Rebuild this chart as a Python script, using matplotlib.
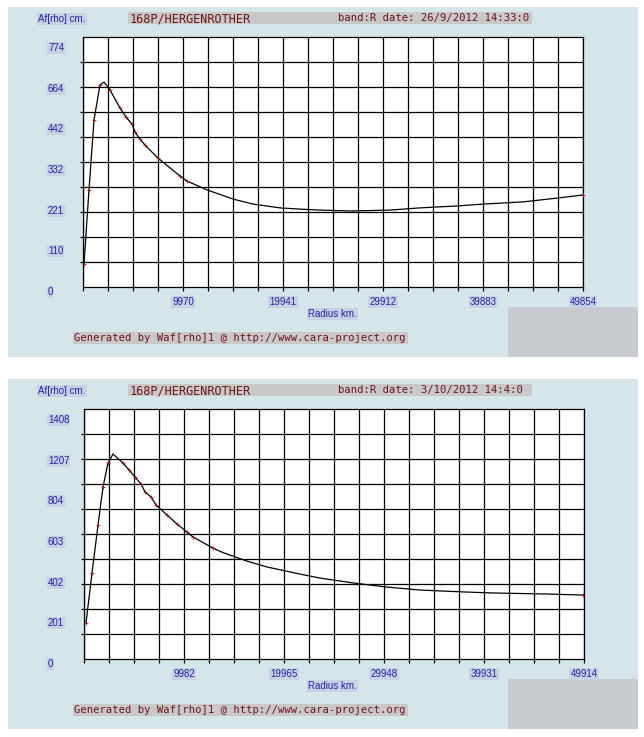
import matplotlib
matplotlib.use("Agg")
import matplotlib.pyplot as plt
from matplotlib.patches import Rectangle
import numpy as np

W, H = 644, 737

# ---- panel 1 : 26/9/2012 ----
r1_x = [100, 598, 1097, 1695, 2094, 2692, 3689, 4287, 4886, 5185, 5683, 6182, 7478,
        9672, 10370, 12364, 14956, 16950, 19642, 21637, 23631, 26622, 30610, 33602,
        37291, 39883, 43872, 47262, 49854]
r1_y = [73, 308, 530, 641, 650, 625, 568, 539, 517, 492, 469, 450, 409,
        352, 336, 308, 279, 263, 251, 247, 244, 241, 244, 251,
        257, 263, 270, 282, 292]
m1_x = [100, 598, 1097, 1695, 2692, 3689, 4287, 4886, 5185, 5683, 6182, 7478, 9672, 10370, 49854]
m1_y = [73, 308, 530, 641, 625, 568, 539, 517, 492, 469, 450, 409, 352, 336, 292]
xmax1 = 49854
ylab1 = ["0", "110", "221", "332", "442", "664", "774"]
ytop1 = 774
date1 = "band:R date: 26/9/2012 14:33:0"

# ---- panel 2 : 3/10/2012 ----
r2_x = [200, 799, 1398, 1897, 2396, 2895, 3893, 4492, 5091, 5690, 6090, 6689, 7188,
        8286, 9284, 10282, 10881, 12878, 13876, 16272, 18269, 21563, 23560, 26854,
        30248, 33543, 37836, 40831, 46222, 49816]
r2_y = [208, 496, 773, 992, 1131, 1183, 1131, 1091, 1050, 1010, 964, 935, 889,
        831, 779, 733, 704, 640, 614, 565, 531, 490, 467, 439,
        415, 398, 387, 381, 375, 369]
m2_x = [200, 799, 1398, 1897, 2396, 3893, 4492, 5091, 5690, 6090, 6689, 7188, 8286,
        9284, 10282, 10881, 12878, 49816]
m2_y = [208, 496, 773, 992, 1131, 1131, 1091, 1050, 1010, 964, 935, 889, 831,
        779, 733, 704, 640, 369]
xmax2 = 49914
ylab2 = ["0", "201", "402", "603", "804", "1207", "1408"]
ytop2 = 1408
date2 = "band:R date: 3/10/2012 14:4:0"

BG = "#d5e6ea"
GREY = "#c6cbd0"
BAR = "#c8c8ca"
RED = "#6e1414"
BLUE = "#2222aa"
HL = "#c6d2e4"


def fx(x):
    return x / W


def fy(y):
    return 1 - y / H


def rect(fig, x0, y0, x1, y1, color):
    fig.add_artist(Rectangle((fx(x0), fy(y1)), (x1 - x0) / W, (y1 - y0) / H,
                             transform=fig.transFigure, facecolor=color,
                             edgecolor="none", zorder=0))


def panel(fig, top, left, xs, ys, mx, my, xmax, ylabels, ytop, date):
    # background boxes
    rect(fig, 8, top, 638, top + 350, BG)
    rect(fig, 508, top + 300, 638, top + 350, GREY)
    rect(fig, 128, top + 5, 532, top + 17, BAR)
    rect(fig, 73, top + 325, 408, top + 337, BAR)

    fig.text(fx(38), fy(top + 12), "Af[rho] cm.", color=BLUE, fontsize=7,
             family="Liberation Sans", va="center", ha="left",
             bbox=dict(boxstyle="square,pad=0.15", fc=HL, ec="none"))
    fig.text(fx(130), fy(top + 11.5), "168P/HERGENROTHER", color=RED, fontsize=8.6,
             family="DejaVu Sans Mono", va="center", ha="left")
    fig.text(fx(338), fy(top + 11.5), date, color=RED, fontsize=7.6,
             family="DejaVu Sans Mono", va="center", ha="left")
    fig.text(fx(308), fy(top + 307), "Radius km.", color=BLUE, fontsize=7,
             family="Liberation Sans", va="center", ha="left",
             bbox=dict(boxstyle="square,pad=0.15", fc=HL, ec="none"))
    fig.text(fx(74), fy(top + 331), "Generated by Waf[rho]1 @ http://www.cara-project.org",
             color=RED, fontsize=7.6, family="DejaVu Sans Mono", va="center", ha="left")

    ax = fig.add_axes([fx(left), fy(top + 280), 500 / W, 250 / H])
    ax.set_facecolor("white")
    ymax = ytop * 250 / 244
    ax.set_xlim(0, xmax)
    ax.set_ylim(0, ymax)

    ax.plot(xs, ys, color="black", lw=0.9, zorder=3)
    ax.plot(mx, my, ls="none", marker="+", ms=3.5, mew=0.6, color="#a01c1c", zorder=4,
            clip_on=False)

    # grid (minor ticks) 20 x 10
    ax.set_xticks(np.linspace(0, xmax, 21)[:-1], minor=True)
    ax.set_yticks(np.linspace(0, ymax, 11)[1:-1], minor=True)
    xt = np.linspace(0, xmax, 6)[1:]
    ax.set_xticks(xt, [str(int(v)) for v in xt])
    ax.set_yticks(np.linspace(0, ytop, 7), ylabels)
    ax.grid(which="minor", color="black", lw=0.9)
    ax.grid(which="major", axis="x", color="black", lw=0.9)
    ax.tick_params(which="minor", axis="x", direction="out", length=3, width=0.9)
    ax.tick_params(which="minor", axis="y", direction="out", length=2, width=0.9)
    ax.tick_params(which="major", axis="x", length=3, width=0.9, pad=4,
                   labelsize=7, labelcolor=BLUE)
    ax.tick_params(which="major", axis="y", length=0, pad=(left - 48) * 0.72,
                   labelsize=7, labelcolor=BLUE)
    for t in ax.get_xticklabels() + ax.get_yticklabels():
        t.set_family("Liberation Sans")
        t.set_bbox(dict(boxstyle="square,pad=0.1", fc=HL, ec="none"))
    for t in ax.get_yticklabels():
        t.set_va("top")
        t.set_ha("left")
    for s in ax.spines.values():
        s.set_color("black")
        s.set_linewidth(0.9)
    return ax


fig = plt.figure(figsize=(W / 100, H / 100), dpi=100, facecolor="white")
panel(fig, 7, 83, r1_x, r1_y, m1_x, m1_y, xmax1, ylab1, ytop1, date1)
panel(fig, 379, 84, r2_x, r2_y, m2_x, m2_y, xmax2, ylab2, ytop2, date2)
fig.savefig("out.png", dpi=100, facecolor="white")
